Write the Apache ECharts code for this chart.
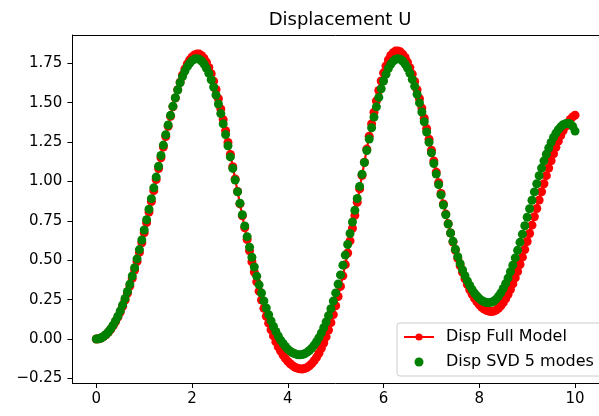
<!DOCTYPE html>
<html>
<head>
<meta charset="utf-8">
<script src="https://cdn.jsdelivr.net/npm/echarts@6/dist/echarts.min.js"></script>
<style>
  html, body { margin: 0; padding: 0; background: #fff; }
  #chart { width: 599px; height: 416px; }
</style>
</head>
<body>
<div id="chart"></div>
<script>
// time samples (x axis)
const tValues = [
  0.00, 0.05, 0.10, 0.15, 0.20, 0.25, 0.30, 0.35, 0.40, 0.45,
  0.50, 0.55, 0.60, 0.65, 0.70, 0.75, 0.80, 0.85, 0.90, 0.95,
  1.00, 1.05, 1.10, 1.15, 1.20, 1.25, 1.30, 1.35, 1.40, 1.45,
  1.50, 1.55, 1.60, 1.65, 1.70, 1.75, 1.80, 1.85, 1.90, 1.95,
  2.00, 2.05, 2.10, 2.15, 2.20, 2.25, 2.30, 2.35, 2.40, 2.45,
  2.50, 2.55, 2.60, 2.65, 2.70, 2.75, 2.80, 2.85, 2.90, 2.95,
  3.00, 3.05, 3.10, 3.15, 3.20, 3.25, 3.30, 3.35, 3.40, 3.45,
  3.50, 3.55, 3.60, 3.65, 3.70, 3.75, 3.80, 3.85, 3.90, 3.95,
  4.00, 4.05, 4.10, 4.15, 4.20, 4.25, 4.30, 4.35, 4.40, 4.45,
  4.50, 4.55, 4.60, 4.65, 4.70, 4.75, 4.80, 4.85, 4.90, 4.95,
  5.00, 5.05, 5.10, 5.15, 5.20, 5.25, 5.30, 5.35, 5.40, 5.45,
  5.50, 5.55, 5.60, 5.65, 5.70, 5.75, 5.80, 5.85, 5.90, 5.95,
  6.00, 6.05, 6.10, 6.15, 6.20, 6.25, 6.30, 6.35, 6.40, 6.45,
  6.50, 6.55, 6.60, 6.65, 6.70, 6.75, 6.80, 6.85, 6.90, 6.95,
  7.00, 7.05, 7.10, 7.15, 7.20, 7.25, 7.30, 7.35, 7.40, 7.45,
  7.50, 7.55, 7.60, 7.65, 7.70, 7.75, 7.80, 7.85, 7.90, 7.95,
  8.00, 8.05, 8.10, 8.15, 8.20, 8.25, 8.30, 8.35, 8.40, 8.45,
  8.50, 8.55, 8.60, 8.65, 8.70, 8.75, 8.80, 8.85, 8.90, 8.95,
  9.00, 9.05, 9.10, 9.15, 9.20, 9.25, 9.30, 9.35, 9.40, 9.45,
  9.50, 9.55, 9.60, 9.65, 9.70, 9.75, 9.80, 9.85, 9.90, 9.95,
  10.00
];

// Disp Full Model (red, line + markers)
const fullModel = [
  0.000, 0.002, 0.007, 0.015, 0.027, 0.043, 0.062, 0.084, 0.110, 0.139,
  0.172, 0.208, 0.247, 0.290, 0.336, 0.385, 0.438, 0.492, 0.550, 0.611,
  0.674, 0.739, 0.806, 0.873, 0.942, 1.012, 1.082, 1.151, 1.219, 1.286,
  1.351, 1.414, 1.474, 1.530, 1.583, 1.631, 1.676, 1.714, 1.747, 1.771,
  1.791, 1.803, 1.810, 1.809, 1.799, 1.782, 1.757, 1.724, 1.684, 1.637,
  1.584, 1.525, 1.461, 1.393, 1.322, 1.248, 1.172, 1.094, 1.016, 0.937,
  0.858, 0.782, 0.706, 0.632, 0.560, 0.491, 0.425, 0.363, 0.304, 0.248,
  0.195, 0.145, 0.101, 0.059, 0.020, -0.018, -0.050, -0.077, -0.101, -0.123,
  -0.142, -0.157, -0.169, -0.179, -0.185, -0.189, -0.190, -0.187, -0.181, -0.170,
  -0.156, -0.138, -0.116, -0.090, -0.059, -0.025, 0.014, 0.057, 0.104, 0.155,
  0.211, 0.270, 0.334, 0.401, 0.472, 0.546, 0.623, 0.703, 0.785, 0.868,
  0.953, 1.038, 1.122, 1.206, 1.288, 1.366, 1.440, 1.511, 1.578, 1.638,
  1.690, 1.734, 1.772, 1.800, 1.818, 1.828, 1.829, 1.823, 1.808, 1.787,
  1.758, 1.723, 1.682, 1.635, 1.583, 1.526, 1.466, 1.402, 1.336, 1.268,
  1.199, 1.130, 1.060, 0.992, 0.924, 0.858, 0.793, 0.732, 0.673, 0.616,
  0.563, 0.512, 0.465, 0.423, 0.382, 0.346, 0.313, 0.284, 0.258, 0.236,
  0.217, 0.202, 0.190, 0.182, 0.177, 0.175, 0.177, 0.184, 0.195, 0.211,
  0.231, 0.255, 0.283, 0.314, 0.350, 0.388, 0.429, 0.473, 0.520, 0.568,
  0.619, 0.670, 0.723, 0.776, 0.829, 0.882, 0.935, 0.986, 1.037, 1.085,
  1.132, 1.176, 1.217, 1.256, 1.291, 1.322, 1.350, 1.374, 1.394, 1.410,
  1.421
];

// Disp SVD 5 modes (green, markers only)
const svdModes = [
  0.000, 0.002, 0.007, 0.016, 0.029, 0.045, 0.065, 0.088, 0.115, 0.145,
  0.179, 0.217, 0.258, 0.302, 0.349, 0.400, 0.453, 0.509, 0.568, 0.629,
  0.692, 0.757, 0.824, 0.891, 0.960, 1.028, 1.097, 1.165, 1.231, 1.297,
  1.359, 1.420, 1.478, 1.532, 1.581, 1.627, 1.666, 1.701, 1.729, 1.751,
  1.767, 1.777, 1.780, 1.776, 1.765, 1.746, 1.719, 1.686, 1.646, 1.600,
  1.549, 1.492, 1.431, 1.366, 1.298, 1.227, 1.156, 1.083, 1.009, 0.935,
  0.862, 0.789, 0.718, 0.650, 0.583, 0.519, 0.457, 0.399, 0.344, 0.292,
  0.242, 0.197, 0.154, 0.115, 0.080, 0.048, 0.019, -0.007, -0.028, -0.047,
  -0.064, -0.077, -0.087, -0.094, -0.099, -0.100, -0.098, -0.093, -0.085, -0.073,
  -0.058, -0.039, -0.017, 0.009, 0.039, 0.072, 0.108, 0.149, 0.193, 0.241,
  0.293, 0.349, 0.407, 0.469, 0.533, 0.600, 0.670, 0.743, 0.817, 0.892,
  0.969, 1.046, 1.121, 1.197, 1.270, 1.341, 1.409, 1.474, 1.534, 1.589,
  1.638, 1.681, 1.717, 1.744, 1.764, 1.776, 1.780, 1.776, 1.765, 1.746,
  1.720, 1.687, 1.648, 1.604, 1.554, 1.499, 1.441, 1.379, 1.314, 1.249,
  1.182, 1.114, 1.047, 0.980, 0.915, 0.851, 0.789, 0.730, 0.673, 0.620,
  0.570, 0.523, 0.479, 0.439, 0.402, 0.369, 0.340, 0.314, 0.291, 0.273,
  0.257, 0.245, 0.237, 0.232, 0.230, 0.233, 0.240, 0.253, 0.271, 0.293,
  0.321, 0.352, 0.387, 0.427, 0.469, 0.515, 0.563, 0.614, 0.666, 0.719,
  0.773, 0.827, 0.881, 0.934, 0.986, 1.037, 1.085, 1.131, 1.173, 1.213,
  1.248, 1.280, 1.307, 1.329, 1.347, 1.360, 1.367, 1.370, 1.365, 1.350,
  1.320
];

const xTicks = [0, 2, 4, 6, 8, 10];
const yTicks = [-0.25, 0, 0.25, 0.5, 0.75, 1.0, 1.25, 1.5, 1.75];

const FONT = 'DejaVu Sans';
const spine = { show: true, onZero: false, lineStyle: { color: '#000', width: 1 } };

const chart = echarts.init(document.getElementById('chart'));

chart.setOption({
  animation: false,
  title: {
    text: 'Displacement U',
    left: 340,
    top: 11,
    padding: 0,
    textAlign: 'center',
    textStyle: { fontFamily: FONT, fontSize: 18, fontWeight: 'normal', color: '#000' }
  },
  grid: { left: 72.4, right: -8, top: 35, bottom: 33 },
  xAxis: [
    {
      type: 'value', min: -0.5, max: 10.5,
      axisLine: spine,
      axisTick: { show: true, length: 5, customValues: xTicks, lineStyle: { color: '#000' } },
      axisLabel: {
        customValues: xTicks, margin: 9, color: '#000',
        fontFamily: FONT, fontSize: 15,
        formatter: v => String(v)
      },
      splitLine: { show: false }
    },
    {
      type: 'value', min: -0.5, max: 10.5, position: 'top',
      axisLine: spine,
      axisTick: { show: false }, axisLabel: { show: false }, splitLine: { show: false }
    }
  ],
  yAxis: {
    type: 'value', min: -0.279, max: 1.93,
    axisLine: spine,
    axisTick: { show: true, length: 5, customValues: yTicks, lineStyle: { color: '#000' } },
    axisLabel: {
      customValues: yTicks, margin: 10, color: '#000',
      fontFamily: FONT, fontSize: 15,
      formatter: v => (v < 0 ? '\u2212' : '') + Math.abs(v).toFixed(2)
    },
    splitLine: { show: false }
  },
  legend: {
    orient: 'vertical',
    left: 397, top: 323,
    padding: [6, 10, 6, 6],
    itemWidth: 30, itemHeight: 9, itemGap: 9,
    borderColor: '#cccccc', borderWidth: 1, borderRadius: 3,
    backgroundColor: 'rgba(255,255,255,0.8)',
    textStyle: { fontFamily: FONT, fontSize: 16, color: '#000', padding: [0, 0, 0, 7] },
    data: ['Disp Full Model', 'Disp SVD 5 modes']
  },
  series: [
    {
      name: 'Disp Full Model',
      type: 'line',
      z: 2,
      data: tValues.map((t, i) => [t, fullModel[i]]),
      symbol: 'circle', symbolSize: 9, showSymbol: true,
      itemStyle: { color: '#ff0000' },
      lineStyle: { color: '#ff0000', width: 2.2 },
      emphasis: { disabled: true }
    },
    {
      name: 'Disp SVD 5 modes',
      type: 'scatter',
      z: 5,
      data: tValues.map((t, i) => [t, svdModes[i]]),
      symbol: 'circle', symbolSize: 9,
      itemStyle: { color: '#008000', opacity: 1 },
      emphasis: { disabled: true }
    }
  ]
});
</script>
</body>
</html>
